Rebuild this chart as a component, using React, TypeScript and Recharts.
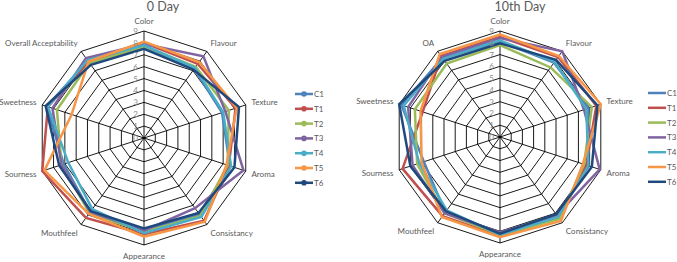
import { RadarChart, Radar, PolarGrid, PolarAngleAxis, PolarRadiusAxis } from "recharts";

const FONT = "Lato, 'Liberation Sans', sans-serif";

const day0Attributes = ["Color", "Flavour", "Texture", "Aroma", "Consistancy", "Appearance", "Mouthfeel", "Sourness", "Sweetness", "Overall Acceptability"];
const day10Attributes = ["Color", "Flavour", "Texture", "Aroma", "Consistancy", "Appearance", "Mouthfeel", "Sourness", "Sweetness", "OA"];

const seriesNames = ["C1", "T1", "T2", "T3", "T4", "T5", "T6"];
const seriesColors = ["#4F81BD", "#C0504D", "#9BBB59", "#8064A2", "#4BACC6", "#F79646", "#1F497D"];

const radiusTicks = [0, 1, 2, 3, 4, 5, 6, 7, 8, 9];

// 0 Day scores, in attribute order
const day0C1 = [7.6, 7.2, 6.9, 7.6, 7.9, 7.8, 7.7, 7.1, 8.6, 8.0];
const day0T1 = [8.0, 7.7, 8.1, 7.5, 8.6, 8.1, 8.3, 9.0, 8.5, 7.9];
const day0T2 = [7.7, 7.4, 7.5, 7.4, 8.1, 7.9, 7.8, 7.3, 7.7, 7.8];
const day0T3 = [7.9, 8.5, 7.2, 8.8, 7.3, 7.8, 7.7, 7.3, 8.1, 8.3];
const day0T4 = [7.8, 7.3, 7.0, 7.7, 8.2, 8.0, 7.4, 6.7, 8.5, 8.1];
const day0T5 = [8.1, 7.9, 8.2, 7.3, 8.7, 8.3, 7.9, 8.8, 6.4, 7.95];
const day0T6 = [7.5, 7.1, 8.4, 8.0, 7.8, 7.6, 7.6, 7.5, 8.7, 7.6];

// 10th Day scores
const day10C1 = [8.1, 7.8, 7.9, 7.8, 8.3, 8.2, 7.9, 6.8, 8.8, 8.3];
const day10T1 = [8.5, 8.4, 8.6, 7.7, 8.5, 8.4, 8.3, 8.7, 6.9, 8.5];
const day10T2 = [7.8, 7.3, 8.2, 7.5, 8.6, 8.3, 8.0, 7.4, 7.6, 7.7];
const day10T3 = [8.4, 9.0, 7.5, 8.9, 8.2, 8.1, 8.0, 7.8, 8.2, 8.4];
const day10T4 = [8.2, 7.9, 7.7, 7.9, 8.4, 8.3, 7.7, 7.2, 8.6, 8.2];
const day10T5 = [8.7, 8.5, 9.0, 7.4, 8.8, 8.5, 8.4, 7.0, 7.1, 8.7];
const day10T6 = [7.95, 8.1, 8.7, 8.2, 8.1, 8.2, 7.8, 8.0, 9.0, 8.0];

const day0Values = [day0C1, day0T1, day0T2, day0T3, day0T4, day0T5, day0T6];
const day10Values = [day10C1, day10T1, day10T2, day10T3, day10T4, day10T5, day10T6];

function buildRows(attrs: string[], values: number[][]) {
  return attrs.map((attribute, i) => {
    const row: Record<string, string | number> = { attribute };
    seriesNames.forEach((name, j) => {
      row[name] = values[j][i];
    });
    return row;
  });
}

const day0Rows = buildRows(day0Attributes, day0Values);
const day10Rows = buildRows(day10Attributes, day10Values);

function AngleTick(props: any) {
  const { x, y, payload, textAnchor } = props;
  const rad = (payload.coordinate * Math.PI) / 180;
  const dy = 3 - 4.5 * Math.sin(rad);
  return (
    <text x={x} y={y + dy} textAnchor={textAnchor} fontSize={8} fill="#595959" fontFamily={FONT}>
      {payload.value}
    </text>
  );
}

function RadiusTick(props: any) {
  const { x, y, payload } = props;
  return (
    <text x={x - 6} y={y + 3} textAnchor="end" fontSize={8} fill="#8c8c8c" fontFamily={FONT}>
      {payload.value}
    </text>
  );
}

function SeriesLegend({ withDots }: { withDots: boolean }) {
  return (
    <svg width={40} height={100}>
      {seriesNames.map((name, i) => (
        <g key={name}>
          <line x1={2} x2={20} y1={6 + i * 14.8} y2={6 + i * 14.8} stroke={seriesColors[i]} strokeWidth={2.5} />
          {withDots && <circle cx={11} cy={6 + i * 14.8} r={2.8} fill={seriesColors[i]} />}
          <text x={21} y={9 + i * 14.8} fontSize={8} fill="#595959" fontFamily={FONT}>
            {name}
          </text>
        </g>
      ))}
    </svg>
  );
}

function SensoryRadar({ rows, cx, cy, r, withDots }: { rows: any[]; cx: number; cy: number; r: number; withDots: boolean }) {
  return (
    <RadarChart width={340} height={262} data={rows} cx={cx} cy={cy} outerRadius={r} margin={{ top: 0, right: 0, bottom: 0, left: 0 }}>
      <PolarGrid gridType="polygon" stroke="#000" strokeWidth={0.9} />
      <PolarAngleAxis dataKey="attribute" tick={AngleTick} tickLine={false} tickSize={6} axisLine={false} />
      <PolarRadiusAxis angle={90} domain={[0, 9]} ticks={radiusTicks} tickCount={10} tick={RadiusTick} axisLine={false} tickLine={false} />
      {seriesNames.map((name, i) => (
        <Radar
          key={name}
          name={name}
          dataKey={name}
          stroke={seriesColors[i]}
          strokeWidth={2.5}
          fill="none"
          fillOpacity={0}
          dot={withDots ? { r: 2.8, fill: seriesColors[i], stroke: "none" } : false}
          isAnimationActive={false}
        />
      ))}
    </RadarChart>
  );
}

export default function App() {
  return (
    <div style={{ position: "absolute", left: 0, top: 0, width: 677, height: 262, background: "#fff", fontFamily: FONT }}>
      <div style={{ position: "absolute", left: 0, top: 0 }}>
        <SensoryRadar rows={day0Rows} cx={144} cy={138} r={107} withDots={true} />
      </div>
      <div style={{ position: "absolute", left: 340, top: 0 }}>
        <SensoryRadar rows={day10Rows} cx={160} cy={137} r={106} withDots={false} />
      </div>
      <div style={{ position: "absolute", left: 120, top: 0, width: 86, textAlign: "center", fontSize: 12.5, lineHeight: "13px", color: "#595959" }}>0 Day</div>
      <div style={{ position: "absolute", left: 470, top: 0, width: 100, textAlign: "center", fontSize: 12.5, lineHeight: "13px", color: "#595959" }}>10th Day</div>
      <div style={{ position: "absolute", left: 293, top: 88 }}>
        <SeriesLegend withDots={true} />
      </div>
      <div style={{ position: "absolute", left: 646, top: 87 }}>
        <SeriesLegend withDots={false} />
      </div>
    </div>
  );
}
